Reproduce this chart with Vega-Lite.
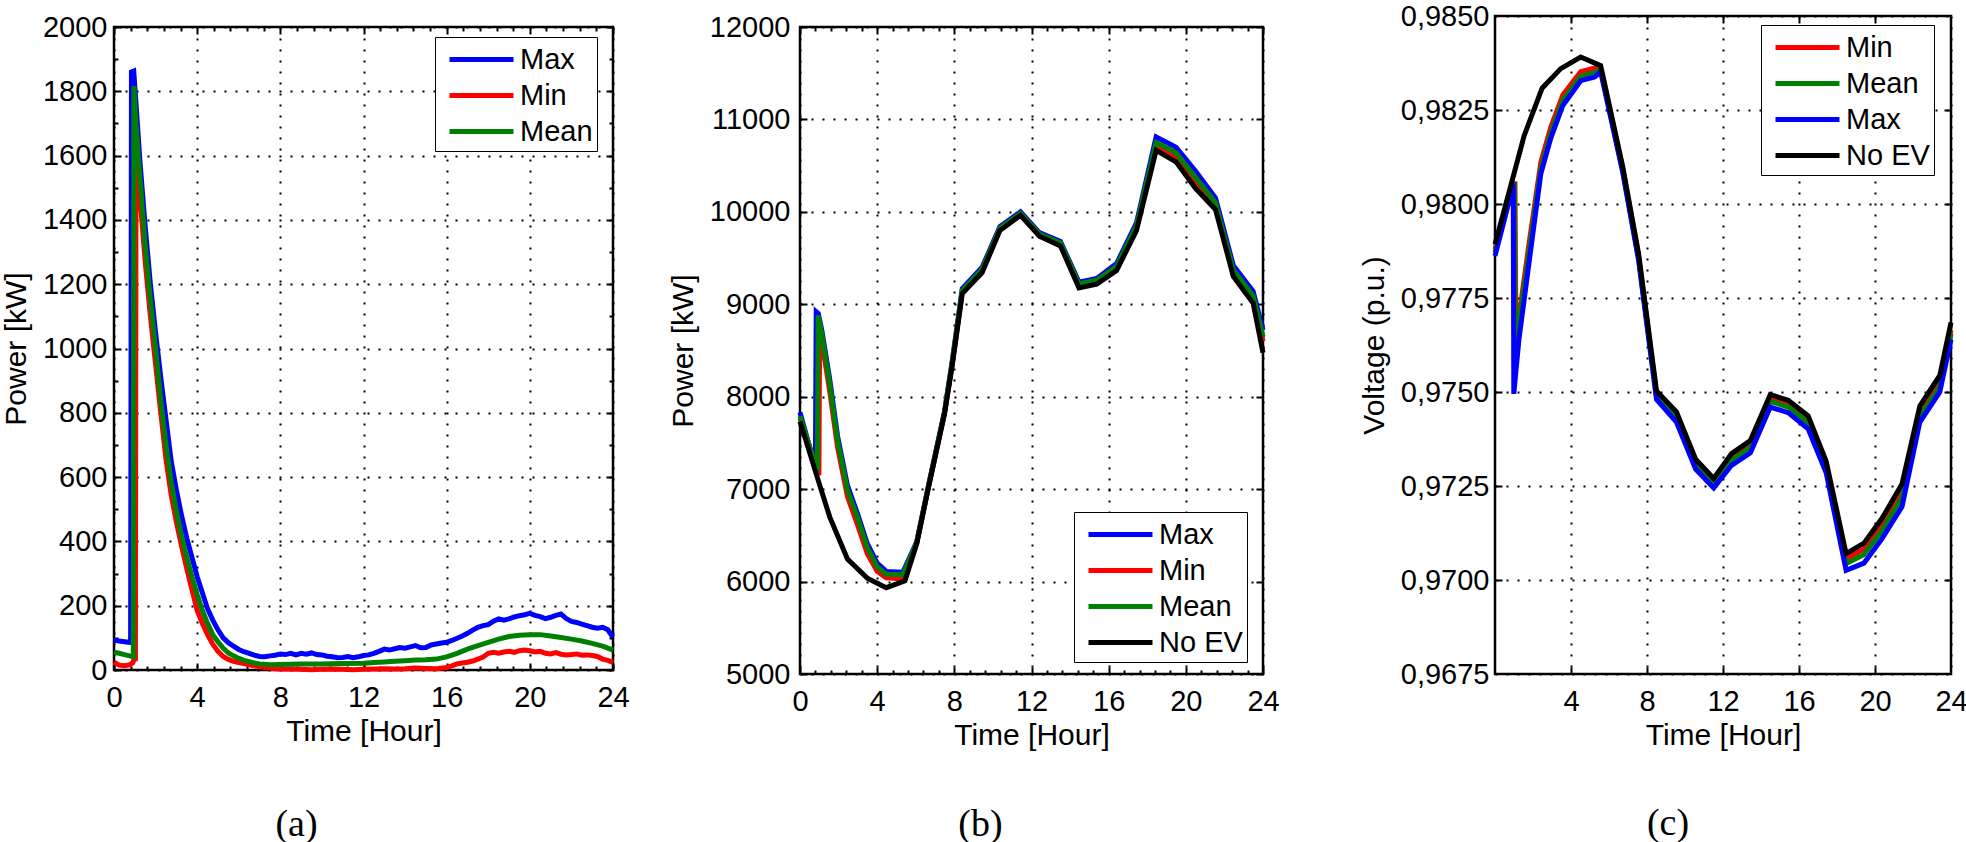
{
  "$schema": "https://vega.github.io/schema/vega-lite/v6.json",
  "background": "white",
  "padding": {"left": 0, "top": 0, "right": 0, "bottom": 0},
  "config": {
    "font": "Liberation Sans",
    "view": {"stroke": "black", "strokeWidth": 2.5},
    "axis": {
      "labelFont": "Liberation Sans", "labelFontSize": 29, "labelColor": "black",
      "titleFont": "Liberation Sans", "titleFontSize": 30, "titleFontWeight": "normal", "titleColor": "black",
      "domain": false, "tickColor": "black", "tickWidth": 2,
      "gridColor": "black", "gridDash": [2, 9], "gridWidth": 2, "gridOpacity": 1,
      "labelOverlap": false, "labelFlush": false, "labelBound": false
    },
    "legend": {
      "orient": "none", "strokeColor": "black", "fillColor": "white", "padding": 4,
      "symbolType": "M-2,0H2", "symbolSize": 1024, "symbolStrokeWidth": 5, "symbolOffset": 24,
      "labelFontSize": 29, "labelFont": "Liberation Sans", "labelColor": "black", "labelOffset": 20, "rowPadding": 2
    },
    "title": {"font": "Liberation Serif", "fontSize": 38, "fontWeight": "normal", "color": "black"}
  },
  "datasets": {
    "a": [
      {"h":0,"v":93,"s":"Max"},{"h":0.25,"v":90,"s":"Max"},{"h":0.5,"v":88,"s":"Max"},{"h":0.75,"v":86,"s":"Max"},{"h":0.8,"v":89,"s":"Max"},{"h":0.84,"v":1860,"s":"Max"},{"h":0.95,"v":1863,"s":"Max"},{"h":1.05,"v":1770,"s":"Max"},{"h":1.25,"v":1580,"s":"Max"},{"h":1.5,"v":1380,"s":"Max"},{"h":1.75,"v":1200,"s":"Max"},{"h":2,"v":1050,"s":"Max"},{"h":2.25,"v":910,"s":"Max"},{"h":2.5,"v":780,"s":"Max"},{"h":2.75,"v":650,"s":"Max"},{"h":3,"v":560,"s":"Max"},{"h":3.25,"v":480,"s":"Max"},{"h":3.5,"v":410,"s":"Max"},{"h":3.75,"v":350,"s":"Max"},{"h":4,"v":290,"s":"Max"},{"h":4.25,"v":240,"s":"Max"},{"h":4.5,"v":190,"s":"Max"},{"h":4.75,"v":155,"s":"Max"},{"h":5,"v":125,"s":"Max"},{"h":5.25,"v":100,"s":"Max"},{"h":5.5,"v":85,"s":"Max"},{"h":5.75,"v":74,"s":"Max"},{"h":6,"v":64,"s":"Max"},{"h":6.25,"v":57,"s":"Max"},{"h":6.5,"v":52,"s":"Max"},{"h":6.75,"v":46,"s":"Max"},{"h":7,"v":42,"s":"Max"},{"h":7.25,"v":41,"s":"Max"},{"h":7.5,"v":44,"s":"Max"},{"h":7.75,"v":46,"s":"Max"},{"h":8,"v":50,"s":"Max"},{"h":8.25,"v":48,"s":"Max"},{"h":8.5,"v":52,"s":"Max"},{"h":8.75,"v":47,"s":"Max"},{"h":9,"v":52,"s":"Max"},{"h":9.25,"v":49,"s":"Max"},{"h":9.5,"v":53,"s":"Max"},{"h":9.75,"v":48,"s":"Max"},{"h":10,"v":47,"s":"Max"},{"h":10.25,"v":43,"s":"Max"},{"h":10.5,"v":41,"s":"Max"},{"h":10.75,"v":38,"s":"Max"},{"h":11,"v":39,"s":"Max"},{"h":11.25,"v":42,"s":"Max"},{"h":11.5,"v":38,"s":"Max"},{"h":11.75,"v":41,"s":"Max"},{"h":12,"v":45,"s":"Max"},{"h":12.25,"v":47,"s":"Max"},{"h":12.5,"v":52,"s":"Max"},{"h":12.75,"v":58,"s":"Max"},{"h":13,"v":65,"s":"Max"},{"h":13.25,"v":62,"s":"Max"},{"h":13.5,"v":66,"s":"Max"},{"h":13.75,"v":70,"s":"Max"},{"h":14,"v":68,"s":"Max"},{"h":14.25,"v":72,"s":"Max"},{"h":14.5,"v":76,"s":"Max"},{"h":14.75,"v":69,"s":"Max"},{"h":15,"v":70,"s":"Max"},{"h":15.25,"v":78,"s":"Max"},{"h":15.5,"v":81,"s":"Max"},{"h":15.75,"v":84,"s":"Max"},{"h":16,"v":86,"s":"Max"},{"h":16.25,"v":92,"s":"Max"},{"h":16.5,"v":99,"s":"Max"},{"h":16.75,"v":106,"s":"Max"},{"h":17,"v":114,"s":"Max"},{"h":17.25,"v":124,"s":"Max"},{"h":17.5,"v":133,"s":"Max"},{"h":17.75,"v":138,"s":"Max"},{"h":18,"v":141,"s":"Max"},{"h":18.25,"v":152,"s":"Max"},{"h":18.5,"v":159,"s":"Max"},{"h":18.75,"v":155,"s":"Max"},{"h":19,"v":159,"s":"Max"},{"h":19.25,"v":165,"s":"Max"},{"h":19.5,"v":169,"s":"Max"},{"h":19.75,"v":172,"s":"Max"},{"h":20,"v":176,"s":"Max"},{"h":20.25,"v":170,"s":"Max"},{"h":20.5,"v":166,"s":"Max"},{"h":20.75,"v":160,"s":"Max"},{"h":21,"v":164,"s":"Max"},{"h":21.25,"v":170,"s":"Max"},{"h":21.5,"v":174,"s":"Max"},{"h":21.75,"v":160,"s":"Max"},{"h":22,"v":151,"s":"Max"},{"h":22.25,"v":148,"s":"Max"},{"h":22.5,"v":143,"s":"Max"},{"h":22.75,"v":138,"s":"Max"},{"h":23,"v":133,"s":"Max"},{"h":23.25,"v":130,"s":"Max"},{"h":23.5,"v":133,"s":"Max"},{"h":23.75,"v":125,"s":"Max"},{"h":24,"v":102,"s":"Max"},
      {"h":0,"v":24,"s":"Min"},{"h":0.25,"v":15,"s":"Min"},{"h":0.5,"v":13,"s":"Min"},{"h":0.75,"v":16,"s":"Min"},{"h":0.9,"v":22,"s":"Min"},{"h":0.98,"v":35,"s":"Min"},{"h":1.03,"v":28,"s":"Min"},{"h":1.06,"v":1690,"s":"Min"},{"h":1.15,"v":1580,"s":"Min"},{"h":1.25,"v":1470,"s":"Min"},{"h":1.5,"v":1270,"s":"Min"},{"h":1.75,"v":1100,"s":"Min"},{"h":2,"v":950,"s":"Min"},{"h":2.25,"v":800,"s":"Min"},{"h":2.5,"v":655,"s":"Min"},{"h":2.75,"v":545,"s":"Min"},{"h":3,"v":460,"s":"Min"},{"h":3.25,"v":385,"s":"Min"},{"h":3.5,"v":315,"s":"Min"},{"h":3.75,"v":250,"s":"Min"},{"h":4,"v":185,"s":"Min"},{"h":4.25,"v":145,"s":"Min"},{"h":4.5,"v":110,"s":"Min"},{"h":4.75,"v":80,"s":"Min"},{"h":5,"v":58,"s":"Min"},{"h":5.25,"v":42,"s":"Min"},{"h":5.5,"v":33,"s":"Min"},{"h":5.75,"v":27,"s":"Min"},{"h":6,"v":23,"s":"Min"},{"h":6.25,"v":20,"s":"Min"},{"h":6.5,"v":16,"s":"Min"},{"h":6.75,"v":13,"s":"Min"},{"h":7,"v":10,"s":"Min"},{"h":7.25,"v":8,"s":"Min"},{"h":7.5,"v":6,"s":"Min"},{"h":7.75,"v":4,"s":"Min"},{"h":8,"v":3,"s":"Min"},{"h":8.5,"v":3,"s":"Min"},{"h":9,"v":2,"s":"Min"},{"h":9.5,"v":1,"s":"Min"},{"h":10,"v":2,"s":"Min"},{"h":10.5,"v":3,"s":"Min"},{"h":11,"v":2,"s":"Min"},{"h":11.5,"v":1,"s":"Min"},{"h":12,"v":2,"s":"Min"},{"h":12.5,"v":3,"s":"Min"},{"h":13,"v":4,"s":"Min"},{"h":13.5,"v":3,"s":"Min"},{"h":14,"v":4,"s":"Min"},{"h":14.5,"v":6,"s":"Min"},{"h":15,"v":5,"s":"Min"},{"h":15.5,"v":4,"s":"Min"},{"h":16,"v":8,"s":"Min"},{"h":16.25,"v":13,"s":"Min"},{"h":16.5,"v":19,"s":"Min"},{"h":16.75,"v":22,"s":"Min"},{"h":17,"v":24,"s":"Min"},{"h":17.25,"v":28,"s":"Min"},{"h":17.5,"v":34,"s":"Min"},{"h":17.75,"v":40,"s":"Min"},{"h":18,"v":52,"s":"Min"},{"h":18.25,"v":55,"s":"Min"},{"h":18.5,"v":52,"s":"Min"},{"h":18.75,"v":56,"s":"Min"},{"h":19,"v":58,"s":"Min"},{"h":19.25,"v":55,"s":"Min"},{"h":19.5,"v":60,"s":"Min"},{"h":19.75,"v":62,"s":"Min"},{"h":20,"v":60,"s":"Min"},{"h":20.25,"v":56,"s":"Min"},{"h":20.5,"v":58,"s":"Min"},{"h":20.75,"v":52,"s":"Min"},{"h":21,"v":50,"s":"Min"},{"h":21.25,"v":54,"s":"Min"},{"h":21.5,"v":49,"s":"Min"},{"h":21.75,"v":47,"s":"Min"},{"h":22,"v":48,"s":"Min"},{"h":22.25,"v":50,"s":"Min"},{"h":22.5,"v":46,"s":"Min"},{"h":22.75,"v":47,"s":"Min"},{"h":23,"v":45,"s":"Min"},{"h":23.25,"v":42,"s":"Min"},{"h":23.5,"v":34,"s":"Min"},{"h":23.75,"v":30,"s":"Min"},{"h":24,"v":24,"s":"Min"},
      {"h":0,"v":55,"s":"Mean"},{"h":0.25,"v":52,"s":"Mean"},{"h":0.5,"v":48,"s":"Mean"},{"h":0.75,"v":44,"s":"Mean"},{"h":0.93,"v":41,"s":"Mean"},{"h":0.96,"v":1816,"s":"Mean"},{"h":1.05,"v":1700,"s":"Mean"},{"h":1.25,"v":1530,"s":"Mean"},{"h":1.5,"v":1320,"s":"Mean"},{"h":1.75,"v":1150,"s":"Mean"},{"h":2,"v":1000,"s":"Mean"},{"h":2.25,"v":840,"s":"Mean"},{"h":2.5,"v":700,"s":"Mean"},{"h":2.75,"v":585,"s":"Mean"},{"h":3,"v":495,"s":"Mean"},{"h":3.25,"v":415,"s":"Mean"},{"h":3.5,"v":350,"s":"Mean"},{"h":3.75,"v":290,"s":"Mean"},{"h":4,"v":235,"s":"Mean"},{"h":4.25,"v":185,"s":"Mean"},{"h":4.5,"v":145,"s":"Mean"},{"h":4.75,"v":110,"s":"Mean"},{"h":5,"v":88,"s":"Mean"},{"h":5.25,"v":68,"s":"Mean"},{"h":5.5,"v":53,"s":"Mean"},{"h":5.75,"v":44,"s":"Mean"},{"h":6,"v":36,"s":"Mean"},{"h":6.25,"v":30,"s":"Mean"},{"h":6.5,"v":26,"s":"Mean"},{"h":6.75,"v":22,"s":"Mean"},{"h":7,"v":19,"s":"Mean"},{"h":7.5,"v":16,"s":"Mean"},{"h":8,"v":17,"s":"Mean"},{"h":8.5,"v":18,"s":"Mean"},{"h":9,"v":19,"s":"Mean"},{"h":10,"v":19,"s":"Mean"},{"h":11,"v":20,"s":"Mean"},{"h":12,"v":21,"s":"Mean"},{"h":12.5,"v":23,"s":"Mean"},{"h":13,"v":25,"s":"Mean"},{"h":13.5,"v":27,"s":"Mean"},{"h":14,"v":29,"s":"Mean"},{"h":14.5,"v":31,"s":"Mean"},{"h":15,"v":32,"s":"Mean"},{"h":15.5,"v":34,"s":"Mean"},{"h":16,"v":41,"s":"Mean"},{"h":16.5,"v":52,"s":"Mean"},{"h":17,"v":65,"s":"Mean"},{"h":17.5,"v":76,"s":"Mean"},{"h":18,"v":86,"s":"Mean"},{"h":18.5,"v":96,"s":"Mean"},{"h":19,"v":104,"s":"Mean"},{"h":19.5,"v":108,"s":"Mean"},{"h":20,"v":110,"s":"Mean"},{"h":20.5,"v":110,"s":"Mean"},{"h":21,"v":106,"s":"Mean"},{"h":21.5,"v":101,"s":"Mean"},{"h":22,"v":96,"s":"Mean"},{"h":22.5,"v":90,"s":"Mean"},{"h":23,"v":83,"s":"Mean"},{"h":23.5,"v":74,"s":"Mean"},{"h":24,"v":62,"s":"Mean"}
    ],
    "b": [
      {"h":0,"v":7830,"s":"Max"},{"h":0.8,"v":7230,"s":"Max"},{"h":0.84,"v":8920,"s":"Max"},{"h":0.95,"v":8900,"s":"Max"},{"h":1.13,"v":8720,"s":"Max"},{"h":1.54,"v":8190,"s":"Max"},{"h":1.95,"v":7570,"s":"Max"},{"h":2.46,"v":7040,"s":"Max"},{"h":2.97,"v":6740,"s":"Max"},{"h":3.49,"v":6410,"s":"Max"},{"h":4,"v":6200,"s":"Max"},{"h":4.47,"v":6110,"s":"Max"},{"h":5.33,"v":6100,"s":"Max"},{"h":6.05,"v":6430,"s":"Max"},{"h":6.67,"v":7050,"s":"Max"},{"h":7.49,"v":7840,"s":"Max"},{"h":7.9,"v":8400,"s":"Max"},{"h":8.41,"v":9170,"s":"Max"},{"h":9.44,"v":9400,"s":"Max"},{"h":10.36,"v":9840,"s":"Max"},{"h":11.43,"v":10000,"s":"Max"},{"h":12.41,"v":9775,"s":"Max"},{"h":13.5,"v":9680,"s":"Max"},{"h":14.46,"v":9240,"s":"Max"},{"h":15.38,"v":9280,"s":"Max"},{"h":16.41,"v":9440,"s":"Max"},{"h":17.44,"v":9880,"s":"Max"},{"h":18.46,"v":10810,"s":"Max"},{"h":19.49,"v":10700,"s":"Max"},{"h":20.51,"v":10440,"s":"Max"},{"h":21.54,"v":10150,"s":"Max"},{"h":22.46,"v":9420,"s":"Max"},{"h":23.49,"v":9140,"s":"Max"},{"h":24,"v":8720,"s":"Max"},
      {"h":0,"v":7770,"s":"Min"},{"h":0.98,"v":7150,"s":"Min"},{"h":1.02,"v":8800,"s":"Min"},{"h":1.13,"v":8600,"s":"Min"},{"h":1.54,"v":8060,"s":"Min"},{"h":1.95,"v":7450,"s":"Min"},{"h":2.46,"v":6920,"s":"Min"},{"h":2.97,"v":6620,"s":"Min"},{"h":3.49,"v":6300,"s":"Min"},{"h":4,"v":6110,"s":"Min"},{"h":4.47,"v":6040,"s":"Min"},{"h":5.33,"v":6030,"s":"Min"},{"h":6.05,"v":6415,"s":"Min"},{"h":6.67,"v":7035,"s":"Min"},{"h":7.49,"v":7820,"s":"Min"},{"h":7.9,"v":8365,"s":"Min"},{"h":8.41,"v":9135,"s":"Min"},{"h":9.44,"v":9365,"s":"Min"},{"h":10.36,"v":9815,"s":"Min"},{"h":11.43,"v":9975,"s":"Min"},{"h":12.41,"v":9750,"s":"Min"},{"h":13.5,"v":9650,"s":"Min"},{"h":14.46,"v":9200,"s":"Min"},{"h":15.38,"v":9240,"s":"Min"},{"h":16.41,"v":9390,"s":"Min"},{"h":17.44,"v":9825,"s":"Min"},{"h":18.46,"v":10700,"s":"Min"},{"h":19.49,"v":10590,"s":"Min"},{"h":20.51,"v":10320,"s":"Min"},{"h":21.54,"v":10060,"s":"Min"},{"h":22.46,"v":9340,"s":"Min"},{"h":23.49,"v":9050,"s":"Min"},{"h":24,"v":8600,"s":"Min"},
      {"h":0,"v":7790,"s":"Mean"},{"h":0.9,"v":7190,"s":"Mean"},{"h":0.94,"v":8880,"s":"Mean"},{"h":1.13,"v":8680,"s":"Mean"},{"h":1.54,"v":8140,"s":"Mean"},{"h":1.95,"v":7520,"s":"Mean"},{"h":2.46,"v":6990,"s":"Mean"},{"h":2.97,"v":6700,"s":"Mean"},{"h":3.49,"v":6370,"s":"Mean"},{"h":4,"v":6160,"s":"Mean"},{"h":4.47,"v":6080,"s":"Mean"},{"h":5.33,"v":6075,"s":"Mean"},{"h":6.05,"v":6420,"s":"Mean"},{"h":6.67,"v":7040,"s":"Mean"},{"h":7.49,"v":7830,"s":"Mean"},{"h":7.9,"v":8380,"s":"Mean"},{"h":8.41,"v":9150,"s":"Mean"},{"h":9.44,"v":9380,"s":"Mean"},{"h":10.36,"v":9825,"s":"Mean"},{"h":11.43,"v":9985,"s":"Mean"},{"h":12.41,"v":9760,"s":"Mean"},{"h":13.5,"v":9665,"s":"Mean"},{"h":14.46,"v":9220,"s":"Mean"},{"h":15.38,"v":9260,"s":"Mean"},{"h":16.41,"v":9410,"s":"Mean"},{"h":17.44,"v":9850,"s":"Mean"},{"h":18.46,"v":10750,"s":"Mean"},{"h":19.49,"v":10640,"s":"Mean"},{"h":20.51,"v":10370,"s":"Mean"},{"h":21.54,"v":10100,"s":"Mean"},{"h":22.46,"v":9370,"s":"Mean"},{"h":23.49,"v":9090,"s":"Mean"},{"h":24,"v":8650,"s":"Mean"},
      {"h":0,"v":7731,"s":"No EV"},{"h":0.92,"v":7111,"s":"No EV"},{"h":1.54,"v":6700,"s":"No EV"},{"h":2.46,"v":6244,"s":"No EV"},{"h":3.49,"v":6037,"s":"No EV"},{"h":4.47,"v":5934,"s":"No EV"},{"h":5.44,"v":6008,"s":"No EV"},{"h":6.05,"v":6409,"s":"No EV"},{"h":6.67,"v":7029,"s":"No EV"},{"h":7.49,"v":7814,"s":"No EV"},{"h":7.9,"v":8351,"s":"No EV"},{"h":8.41,"v":9116,"s":"No EV"},{"h":9.44,"v":9343,"s":"No EV"},{"h":10.36,"v":9798,"s":"No EV"},{"h":11.43,"v":9963,"s":"No EV"},{"h":12.41,"v":9736,"s":"No EV"},{"h":13.5,"v":9632,"s":"No EV"},{"h":14.46,"v":9178,"s":"No EV"},{"h":15.38,"v":9219,"s":"No EV"},{"h":16.41,"v":9364,"s":"No EV"},{"h":17.44,"v":9798,"s":"No EV"},{"h":18.46,"v":10665,"s":"No EV"},{"h":19.49,"v":10541,"s":"No EV"},{"h":20.51,"v":10252,"s":"No EV"},{"h":21.54,"v":10025,"s":"No EV"},{"h":22.46,"v":9302,"s":"No EV"},{"h":23.49,"v":9012,"s":"No EV"},{"h":24,"v":8475,"s":"No EV"}
    ],
    "c": [
      {"h":0,"v":0.97880,"s":"Min"},{"h":0.5,"v":0.97968,"s":"Min"},{"h":1.05,"v":0.98060,"s":"Min"},{"h":1.1,"v":0.97650,"s":"Min"},{"h":1.26,"v":0.97700,"s":"Min"},{"h":1.78,"v":0.97890,"s":"Min"},{"h":2.41,"v":0.98110,"s":"Min"},{"h":2.94,"v":0.98205,"s":"Min"},{"h":3.57,"v":0.98290,"s":"Min"},{"h":4.51,"v":0.98352,"s":"Min"},{"h":5.25,"v":0.98362,"s":"Min"},{"h":5.56,"v":0.98362,"s":"Min"},{"h":6.72,"v":0.98095,"s":"Min"},{"h":7.56,"v":0.97860,"s":"Min"},{"h":8.5,"v":0.97495,"s":"Min"},{"h":9.55,"v":0.97438,"s":"Min"},{"h":10.56,"v":0.97312,"s":"Min"},{"h":11.51,"v":0.97262,"s":"Min"},{"h":12.45,"v":0.97325,"s":"Min"},{"h":13.44,"v":0.97360,"s":"Min"},{"h":14.49,"v":0.97482,"s":"Min"},{"h":15.43,"v":0.97467,"s":"Min"},{"h":16.48,"v":0.97425,"s":"Min"},{"h":17.43,"v":0.97305,"s":"Min"},{"h":18.48,"v":0.97057,"s":"Min"},{"h":19.42,"v":0.97082,"s":"Min"},{"h":20.37,"v":0.97148,"s":"Min"},{"h":21.42,"v":0.97235,"s":"Min"},{"h":22.36,"v":0.97445,"s":"Min"},{"h":23.41,"v":0.97525,"s":"Min"},{"h":24,"v":0.97665,"s":"Min"},
      {"h":0,"v":0.97872,"s":"Mean"},{"h":0.5,"v":0.97964,"s":"Mean"},{"h":1.02,"v":0.98058,"s":"Mean"},{"h":1.06,"v":0.97625,"s":"Mean"},{"h":1.26,"v":0.97685,"s":"Mean"},{"h":1.78,"v":0.97870,"s":"Mean"},{"h":2.41,"v":0.98095,"s":"Mean"},{"h":2.94,"v":0.98190,"s":"Mean"},{"h":3.57,"v":0.98277,"s":"Mean"},{"h":4.51,"v":0.98340,"s":"Mean"},{"h":5.25,"v":0.98350,"s":"Mean"},{"h":5.56,"v":0.98358,"s":"Mean"},{"h":6.72,"v":0.98090,"s":"Mean"},{"h":7.56,"v":0.97855,"s":"Mean"},{"h":8.5,"v":0.97490,"s":"Mean"},{"h":9.55,"v":0.97432,"s":"Mean"},{"h":10.56,"v":0.97306,"s":"Mean"},{"h":11.51,"v":0.97256,"s":"Mean"},{"h":12.45,"v":0.97318,"s":"Mean"},{"h":13.44,"v":0.97352,"s":"Mean"},{"h":14.49,"v":0.97475,"s":"Mean"},{"h":15.43,"v":0.97460,"s":"Mean"},{"h":16.48,"v":0.97418,"s":"Mean"},{"h":17.43,"v":0.97298,"s":"Mean"},{"h":18.48,"v":0.97044,"s":"Mean"},{"h":19.42,"v":0.97068,"s":"Mean"},{"h":20.37,"v":0.97132,"s":"Mean"},{"h":21.42,"v":0.97220,"s":"Mean"},{"h":22.36,"v":0.97435,"s":"Mean"},{"h":23.41,"v":0.97515,"s":"Mean"},{"h":24,"v":0.97655,"s":"Mean"},
      {"h":0,"v":0.97862,"s":"Max"},{"h":0.5,"v":0.97960,"s":"Max"},{"h":0.96,"v":0.98055,"s":"Max"},{"h":0.99,"v":0.97495,"s":"Max"},{"h":1.26,"v":0.97640,"s":"Max"},{"h":1.78,"v":0.97840,"s":"Max"},{"h":2.41,"v":0.98080,"s":"Max"},{"h":2.94,"v":0.98176,"s":"Max"},{"h":3.57,"v":0.98262,"s":"Max"},{"h":4.51,"v":0.98328,"s":"Max"},{"h":5.25,"v":0.98338,"s":"Max"},{"h":5.56,"v":0.98352,"s":"Max"},{"h":6.72,"v":0.98085,"s":"Max"},{"h":7.56,"v":0.97850,"s":"Max"},{"h":8.5,"v":0.97480,"s":"Max"},{"h":9.55,"v":0.97420,"s":"Max"},{"h":10.56,"v":0.97295,"s":"Max"},{"h":11.51,"v":0.97245,"s":"Max"},{"h":12.45,"v":0.97305,"s":"Max"},{"h":13.44,"v":0.97338,"s":"Max"},{"h":14.49,"v":0.97460,"s":"Max"},{"h":15.43,"v":0.97445,"s":"Max"},{"h":16.48,"v":0.97402,"s":"Max"},{"h":17.43,"v":0.97285,"s":"Max"},{"h":18.48,"v":0.97026,"s":"Max"},{"h":19.42,"v":0.97045,"s":"Max"},{"h":20.37,"v":0.97110,"s":"Max"},{"h":21.42,"v":0.97195,"s":"Max"},{"h":22.36,"v":0.97420,"s":"Max"},{"h":23.41,"v":0.97500,"s":"Max"},{"h":24,"v":0.97640,"s":"Max"},
      {"h":0,"v":0.97893,"s":"No EV"},{"h":0.52,"v":0.97990,"s":"No EV"},{"h":1.05,"v":0.98090,"s":"No EV"},{"h":1.53,"v":0.98181,"s":"No EV"},{"h":2.48,"v":0.98308,"s":"No EV"},{"h":3.46,"v":0.98360,"s":"No EV"},{"h":4.51,"v":0.98391,"s":"No EV"},{"h":5.56,"v":0.98368,"s":"No EV"},{"h":6.72,"v":0.98100,"s":"No EV"},{"h":7.56,"v":0.97867,"s":"No EV"},{"h":8.5,"v":0.97503,"s":"No EV"},{"h":9.55,"v":0.97447,"s":"No EV"},{"h":10.56,"v":0.97321,"s":"No EV"},{"h":11.51,"v":0.97270,"s":"No EV"},{"h":12.45,"v":0.97336,"s":"No EV"},{"h":13.44,"v":0.97371,"s":"No EV"},{"h":14.49,"v":0.97493,"s":"No EV"},{"h":15.43,"v":0.97478,"s":"No EV"},{"h":16.48,"v":0.97437,"s":"No EV"},{"h":17.43,"v":0.97316,"s":"No EV"},{"h":18.48,"v":0.97070,"s":"No EV"},{"h":19.42,"v":0.97098,"s":"No EV"},{"h":20.37,"v":0.97164,"s":"No EV"},{"h":21.42,"v":0.97255,"s":"No EV"},{"h":22.36,"v":0.97463,"s":"No EV"},{"h":23.41,"v":0.97544,"s":"No EV"},{"h":24,"v":0.97685,"s":"No EV"}
    ]
  },
  "bounds": "full",
  "spacing": 40,
  "resolve": {"scale": {"color": "independent"}, "legend": {"color": "independent"}},
  "hconcat": [
    {
      "bounds": "full",
      "spacing": -6,
      "resolve": {"scale": {"color": "independent"}, "legend": {"color": "independent"}},
      "vconcat": [
        {
          "width": 1, "height": 1,
          "view": {"stroke": null},
          "data": {"values": []},
          "mark": {"type": "point", "opacity": 0}
        },
        {
          "bounds": "full",
          "spacing": 36,
          "resolve": {"scale": {"color": "independent"}, "legend": {"color": "independent"}},
          "hconcat": [
            {
              "width": 499, "height": 643,
              "data": {"name": "a"},
              "title": {"text": "(a)", "orient": "bottom", "anchor": "middle", "frame": "group", "dx": -67, "offset": 60},
              "resolve": {"axis": {"x": "independent", "y": "independent"}},
              "layer": [
                {
                  "mark": {"type": "line", "strokeWidth": 5},
                  "encoding": {
                    "x": {"field": "h", "type": "quantitative", "scale": {"domain": [0, 24], "nice": false, "zero": false},
                          "axis": {"orient": "bottom", "values": [0, 4, 8, 12, 16, 20, 24], "ticks": false, "grid": true, "labelPadding": 13, "title": "Time [Hour]", "titlePadding": 4}},
                    "y": {"field": "v", "type": "quantitative", "scale": {"domain": [0, 2000], "nice": false, "zero": false},
                          "axis": {"orient": "left", "values": [0, 200, 400, 600, 800, 1000, 1200, 1400, 1600, 1800, 2000], "format": "d", "ticks": false, "grid": true, "labelPadding": 7, "title": "Power [kW]", "titlePadding": 11}},
                    "color": {"field": "s", "type": "nominal",
                              "scale": {"domain": ["Max", "Min", "Mean"], "range": ["#0000ff", "#ff0000", "#008000"]},
                              "legend": {"legendX": 321, "legendY": 10, "title": null}}
                  }
                },
                {
                  "transform": [{"aggregate": [{"op": "max", "field": "v", "as": "v"}, {"op": "max", "field": "h", "as": "h"}]}],
                  "mark": {"type": "point", "opacity": 0},
                  "encoding": {
                    "x": {"field": "h", "type": "quantitative", "axis": {"orient": "bottom", "values": [0, 4, 8, 12, 16, 20, 24], "labels": false, "grid": false, "tickSize": -7, "title": null}},
                    "y": {"field": "v", "type": "quantitative", "axis": {"orient": "left", "values": [0, 200, 400, 600, 800, 1000, 1200, 1400, 1600, 1800, 2000], "labels": false, "grid": false, "tickSize": -7, "title": null}}
                  }
                },
                {
                  "transform": [{"aggregate": [{"op": "max", "field": "v", "as": "v"}, {"op": "max", "field": "h", "as": "h"}]}],
                  "mark": {"type": "point", "opacity": 0},
                  "encoding": {
                    "x": {"field": "h", "type": "quantitative", "axis": {"orient": "top", "values": [0, 4, 8, 12, 16, 20, 24], "labels": false, "grid": false, "tickSize": -7, "title": null}},
                    "y": {"field": "v", "type": "quantitative", "axis": {"orient": "right", "values": [0, 200, 400, 600, 800, 1000, 1200, 1400, 1600, 1800, 2000], "labels": false, "grid": false, "tickSize": -7, "title": null}}
                  }
                },
                {
                  "transform": [{"aggregate": [{"op": "max", "field": "v", "as": "v"}, {"op": "max", "field": "h", "as": "h"}]}],
                  "mark": {"type": "point", "opacity": 0},
                  "encoding": {
                    "x": {"field": "h", "type": "quantitative", "axis": {"orient": "bottom", "values": [0.8, 1.6, 2.4, 3.2, 4.8, 5.6, 6.4, 7.2, 8.8, 9.6, 10.4, 11.2, 12.8, 13.6, 14.4, 15.2, 16.8, 17.6, 18.4, 19.2, 20.8, 21.6, 22.4, 23.2], "labels": false, "grid": false, "tickSize": -4, "title": null}},
                    "y": {"field": "v", "type": "quantitative", "axis": {"orient": "left", "values": [100, 300, 500, 700, 900, 1100, 1300, 1500, 1700, 1900], "labels": false, "grid": false, "tickSize": -4, "title": null}}
                  }
                },
                {
                  "transform": [{"aggregate": [{"op": "max", "field": "v", "as": "v"}, {"op": "max", "field": "h", "as": "h"}]}],
                  "mark": {"type": "point", "opacity": 0},
                  "encoding": {
                    "x": {"field": "h", "type": "quantitative", "axis": {"orient": "top", "values": [0.8, 1.6, 2.4, 3.2, 4.8, 5.6, 6.4, 7.2, 8.8, 9.6, 10.4, 11.2, 12.8, 13.6, 14.4, 15.2, 16.8, 17.6, 18.4, 19.2, 20.8, 21.6, 22.4, 23.2], "labels": false, "grid": false, "tickSize": -4, "title": null}},
                    "y": {"field": "v", "type": "quantitative", "axis": {"orient": "right", "values": [100, 300, 500, 700, 900, 1100, 1300, 1500, 1700, 1900], "labels": false, "grid": false, "tickSize": -4, "title": null}}
                  }
                }
              ]
            },
            {
              "width": 463, "height": 647,
              "data": {"name": "b"},
              "title": {"text": "(b)", "orient": "bottom", "anchor": "middle", "frame": "group", "dx": -51, "offset": 56},
              "resolve": {"axis": {"x": "independent", "y": "independent"}},
              "layer": [
                {
                  "mark": {"type": "line", "strokeWidth": 5},
                  "encoding": {
                    "x": {"field": "h", "type": "quantitative", "scale": {"domain": [0, 24], "nice": false, "zero": false},
                          "axis": {"orient": "bottom", "values": [0, 4, 8, 12, 16, 20, 24], "ticks": false, "grid": true, "labelPadding": 13, "title": "Time [Hour]", "titlePadding": 4}},
                    "y": {"field": "v", "type": "quantitative", "scale": {"domain": [5000, 12000], "nice": false, "zero": false},
                          "axis": {"orient": "left", "values": [5000, 6000, 7000, 8000, 9000, 10000, 11000, 12000], "format": "d", "ticks": false, "grid": true, "labelPadding": 10, "title": "Power [kW]", "titlePadding": 11}},
                    "color": {"field": "s", "type": "nominal",
                              "scale": {"domain": ["Max", "Min", "Mean", "No EV"], "range": ["#0000ff", "#ff0000", "#008000", "#000000"]},
                              "legend": {"legendX": 274, "legendY": 485, "title": null}}
                  }
                },
                {
                  "transform": [{"aggregate": [{"op": "max", "field": "v", "as": "v"}, {"op": "max", "field": "h", "as": "h"}]}],
                  "mark": {"type": "point", "opacity": 0},
                  "encoding": {
                    "x": {"field": "h", "type": "quantitative", "axis": {"orient": "bottom", "values": [0, 4, 8, 12, 16, 20, 24], "labels": false, "grid": false, "tickSize": -7, "title": null}},
                    "y": {"field": "v", "type": "quantitative", "axis": {"orient": "left", "values": [5000, 6000, 7000, 8000, 9000, 10000, 11000, 12000], "labels": false, "grid": false, "tickSize": -7, "title": null}}
                  }
                },
                {
                  "transform": [{"aggregate": [{"op": "max", "field": "v", "as": "v"}, {"op": "max", "field": "h", "as": "h"}]}],
                  "mark": {"type": "point", "opacity": 0},
                  "encoding": {
                    "x": {"field": "h", "type": "quantitative", "axis": {"orient": "top", "values": [0, 4, 8, 12, 16, 20, 24], "labels": false, "grid": false, "tickSize": -7, "title": null}},
                    "y": {"field": "v", "type": "quantitative", "axis": {"orient": "right", "values": [5000, 6000, 7000, 8000, 9000, 10000, 11000, 12000], "labels": false, "grid": false, "tickSize": -7, "title": "x", "titleOpacity": 0, "titlePadding": 22}}
                  }
                },
                {
                  "transform": [{"aggregate": [{"op": "max", "field": "v", "as": "v"}, {"op": "max", "field": "h", "as": "h"}]}],
                  "mark": {"type": "point", "opacity": 0},
                  "encoding": {
                    "x": {"field": "h", "type": "quantitative", "axis": {"orient": "bottom", "values": [0.8, 1.6, 2.4, 3.2, 4.8, 5.6, 6.4, 7.2, 8.8, 9.6, 10.4, 11.2, 12.8, 13.6, 14.4, 15.2, 16.8, 17.6, 18.4, 19.2, 20.8, 21.6, 22.4, 23.2], "labels": false, "grid": false, "tickSize": -4, "title": null}},
                    "y": {"field": "v", "type": "quantitative", "axis": null}
                  }
                },
                {
                  "transform": [{"aggregate": [{"op": "max", "field": "v", "as": "v"}, {"op": "max", "field": "h", "as": "h"}]}],
                  "mark": {"type": "point", "opacity": 0},
                  "encoding": {
                    "x": {"field": "h", "type": "quantitative", "axis": {"orient": "top", "values": [0.8, 1.6, 2.4, 3.2, 4.8, 5.6, 6.4, 7.2, 8.8, 9.6, 10.4, 11.2, 12.8, 13.6, 14.4, 15.2, 16.8, 17.6, 18.4, 19.2, 20.8, 21.6, 22.4, 23.2], "labels": false, "grid": false, "tickSize": -4, "title": null}},
                    "y": {"field": "v", "type": "quantitative", "axis": null}
                  }
                }
              ]
            }
          ]
        }
      ]
    },
    {
      "width": 456, "height": 658,
      "data": {"name": "c"},
      "title": {"text": "(c)", "orient": "bottom", "anchor": "middle", "frame": "group", "dx": -55, "offset": 55},
      "resolve": {"axis": {"x": "independent", "y": "independent"}},
      "layer": [
        {
          "mark": {"type": "line", "strokeWidth": 5},
          "encoding": {
            "x": {"field": "h", "type": "quantitative", "scale": {"domain": [0, 24], "nice": false, "zero": false},
                  "axis": {"orient": "bottom", "values": [4, 8, 12, 16, 20, 24], "ticks": false, "grid": true, "labelPadding": 13, "title": "Time [Hour]", "titlePadding": 4}},
            "y": {"field": "v", "type": "quantitative", "scale": {"domain": [0.9675, 0.985], "nice": false, "zero": false},
                  "axis": {"orient": "left", "values": [0.9675, 0.97, 0.9725, 0.975, 0.9775, 0.98, 0.9825, 0.985], "labelExpr": "replace(format(datum.value, '.4f'), '.', ',')", "ticks": false, "grid": true, "labelPadding": 6, "title": "Voltage (p.u.)", "titlePadding": 11}},
            "color": {"field": "s", "type": "nominal",
                      "scale": {"domain": ["Min", "Mean", "Max", "No EV"], "range": ["#ff0000", "#008000", "#0000ff", "#000000"]},
                      "legend": {"legendX": 266, "legendY": 9, "title": null}}
          }
        },
        {
          "transform": [{"aggregate": [{"op": "max", "field": "v", "as": "v"}, {"op": "max", "field": "h", "as": "h"}]}],
          "mark": {"type": "point", "opacity": 0},
          "encoding": {
            "x": {"field": "h", "type": "quantitative", "axis": {"orient": "bottom", "values": [4, 8, 12, 16, 20], "labels": false, "grid": false, "tickSize": -7, "title": null}},
            "y": {"field": "v", "type": "quantitative", "axis": {"orient": "left", "values": [0.97, 0.9725, 0.975, 0.9775, 0.98, 0.9825], "labels": false, "grid": false, "tickSize": -7, "title": null}}
          }
        },
        {
          "transform": [{"aggregate": [{"op": "max", "field": "v", "as": "v"}, {"op": "max", "field": "h", "as": "h"}]}],
          "mark": {"type": "point", "opacity": 0},
          "encoding": {
            "x": {"field": "h", "type": "quantitative", "axis": {"orient": "top", "values": [4, 8, 12, 16, 20], "labels": false, "grid": false, "tickSize": -7, "title": null}},
            "y": {"field": "v", "type": "quantitative", "axis": {"orient": "right", "values": [0.97, 0.9725, 0.975, 0.9775, 0.98, 0.9825], "labels": false, "grid": false, "tickSize": -7, "title": null}}
          }
        }
      ]
    }
  ]
}
